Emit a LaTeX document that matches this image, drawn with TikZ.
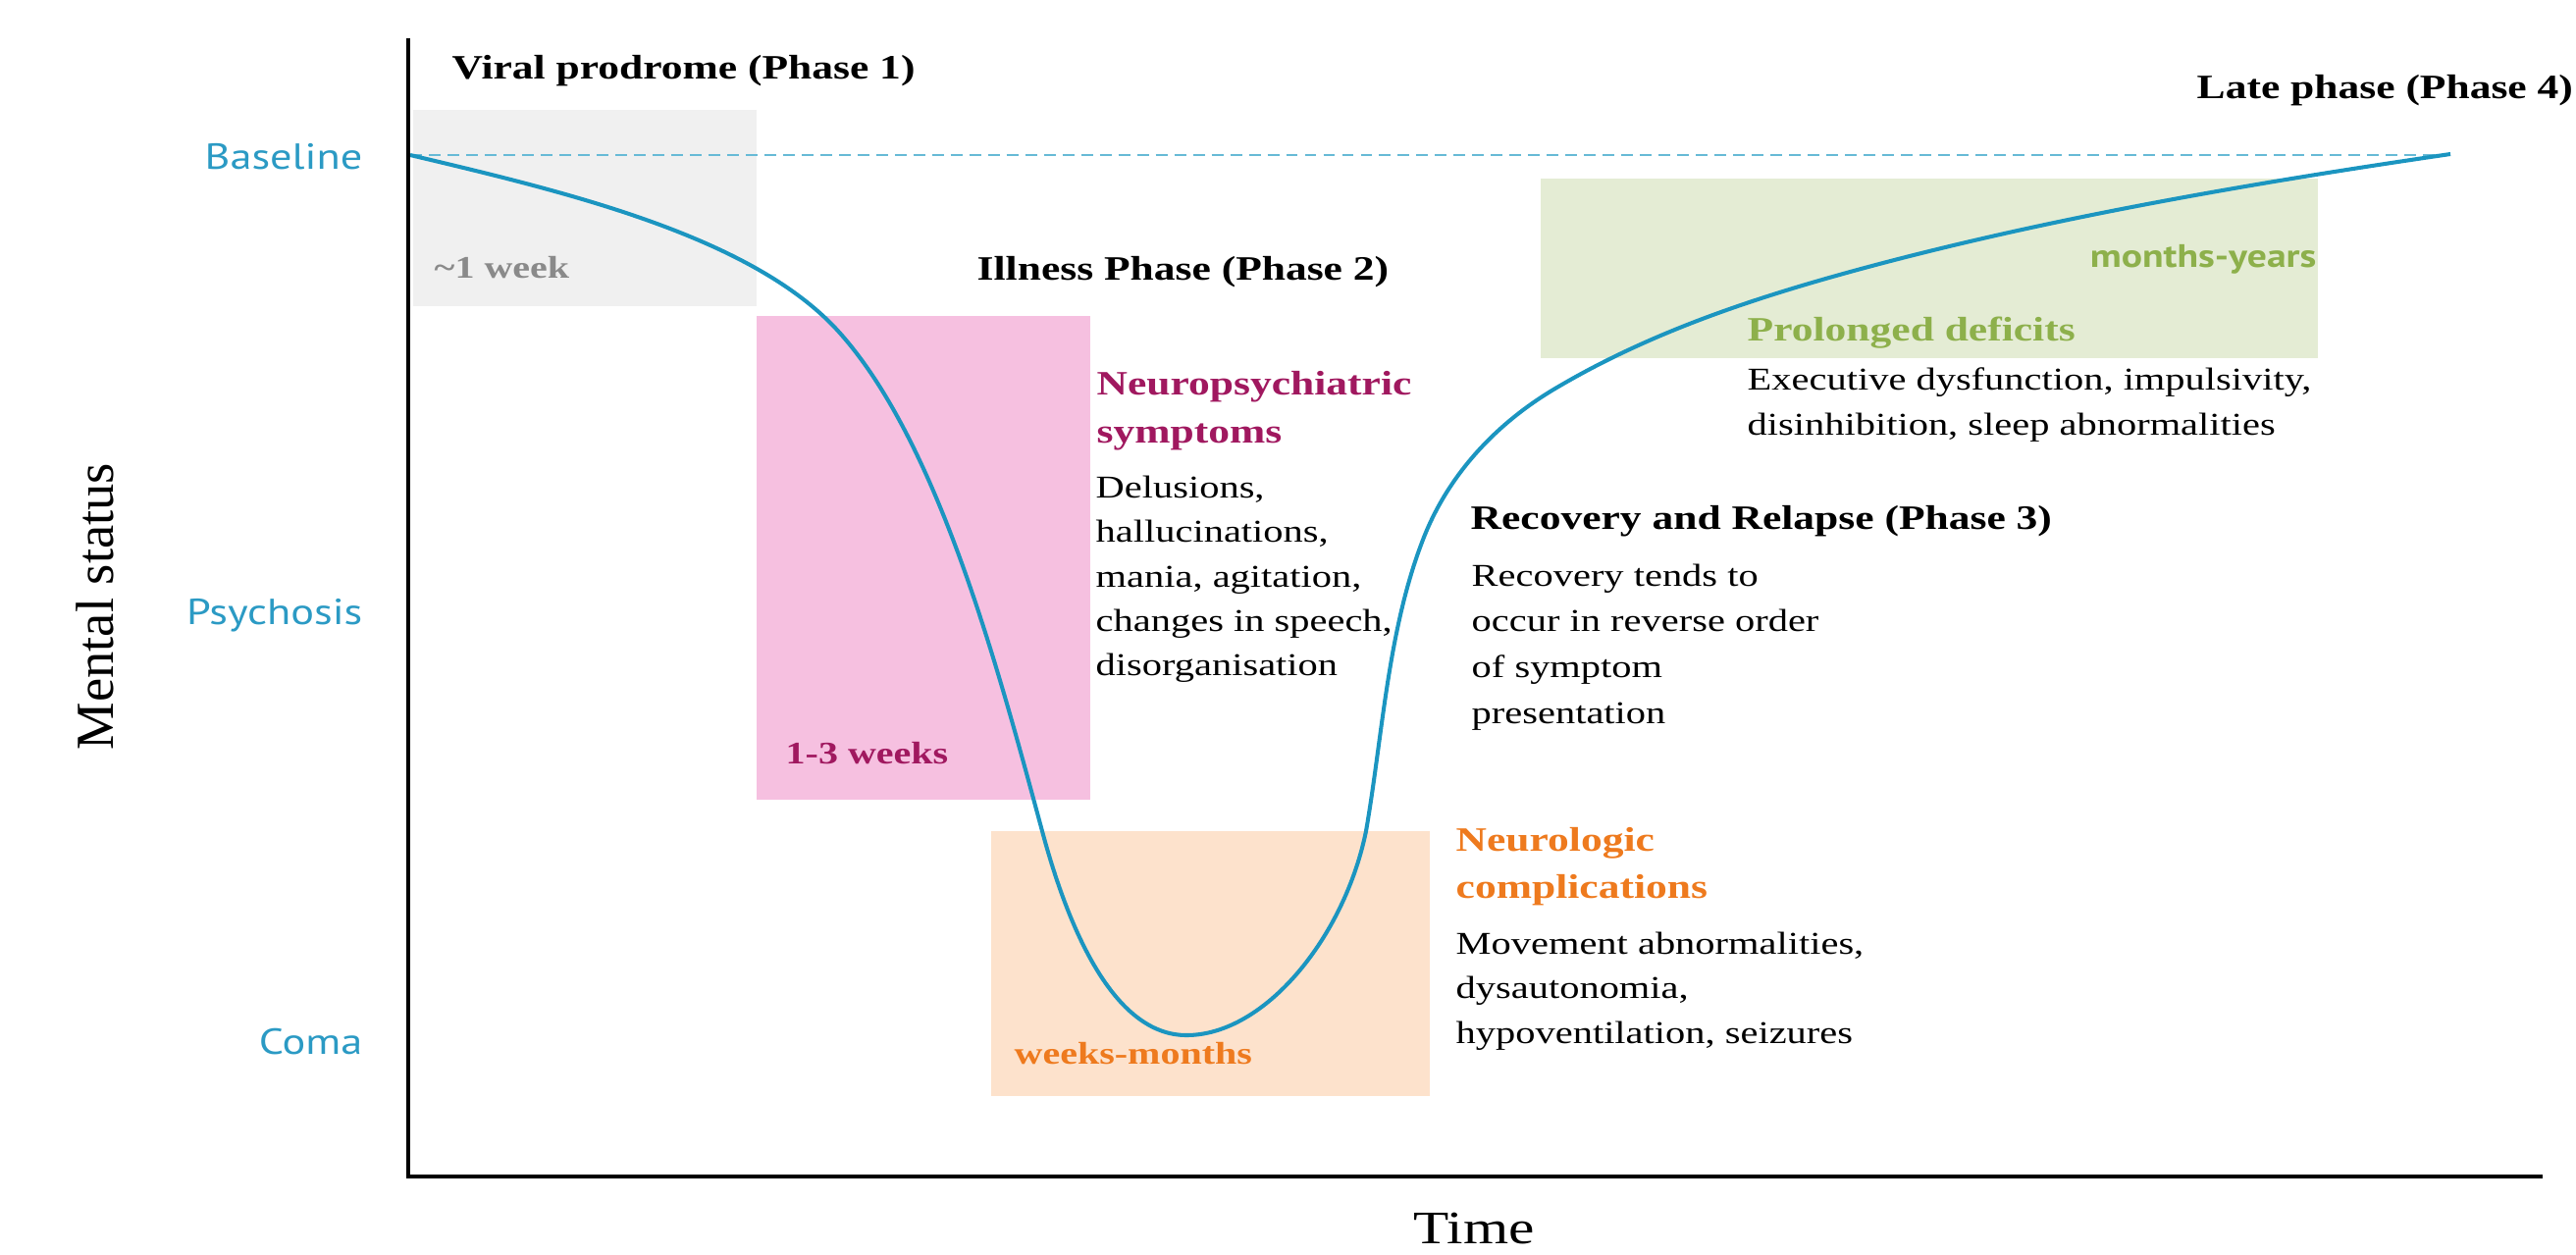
\documentclass[tikz,border=0pt]{standalone}
\usepackage{fontspec}
\setmainfont{Liberation Serif}[FakeStretch=1.25]
\newfontfamily\axisfont{Liberation Serif}
\newfontfamily\labfont{PT Sans}[FakeStretch=1.2]
\definecolor{curveblue}{HTML}{1B95C0}
\definecolor{dashblue}{HTML}{67BAD6}
\definecolor{lblblue}{HTML}{2B9AC4}
\definecolor{grayfill}{HTML}{F0F0F0}
\definecolor{pinkfill}{HTML}{F6C0E0}
\definecolor{peachfill}{HTML}{FDE2CC}
\definecolor{greenfill}{HTML}{E4ECD4}
\definecolor{magtext}{HTML}{A0185F}
\definecolor{orgtext}{HTML}{EE7A1E}
\definecolor{grntext}{HTML}{8DB04B}
\definecolor{gratext}{HTML}{8A8A8A}
\tikzset{
  lbl/.style={inner sep=0pt, anchor=base west},
  ttl/.style={lbl, font=\fontsize{9.9}{12}\selectfont\bfseries},
  body/.style={lbl, font=\fontsize{9.2}{11}\selectfont},
  dur/.style={lbl, font=\fontsize{9.1}{11}\selectfont\bfseries},
  ylab/.style={inner sep=0pt, anchor=base east, text=lblblue, font=\labfont\fontsize{10.5}{12}\selectfont},
  axisline/.style={line width=1.1pt, black},
  trajectory/.style={line width=1.15pt, curveblue},
  basedash/.style={line width=0.8pt, dashblue, dash pattern=on 3.4pt off 2pt}
}
\begin{document}
\begin{tikzpicture}[x=0.01cm, y=-0.01cm]
\useasboundingbox (0,0) rectangle (2625,1278);
% phase boxes
\fill[grayfill] (421,112) rectangle (771,312);
\fill[pinkfill] (771,322) rectangle (1111,815);
\fill[peachfill] (1010,847) rectangle (1457,1117);
\fill[greenfill] (1570,182) rectangle (2362,365);
% curve key points
\coordinate (cstart) at (418,158);
\coordinate (k1) at (850,333);
\coordinate (k2) at (1062,847);
\coordinate (kmin) at (1209,1055);
\coordinate (k4) at (1392,847);
\coordinate (k5) at (1450,550);
\coordinate (k6) at (1583,397);
\coordinate (k7) at (1900,273);
\coordinate (cend) at (2497,157);
% baseline dashed
\coordinate (dend) at (2497,158);
\draw[basedash] (cstart) -- (dend);
% trajectory
\draw[trajectory] (cstart)
  .. controls (574,195) and (760,239) .. (k1)
  .. controls (953,442) and (1015,673) .. (k2)
  .. controls (1088,944) and (1134,1055) .. (kmin)
  .. controls (1289,1055) and (1370,955) .. (k4)
  .. controls (1409,749) and (1414,643) .. (k5)
  .. controls (1475,485) and (1523,433) .. (k6)
  .. controls (1682,338) and (1789,303) .. (k7)
  .. controls (2093,221) and (2299,186) .. (cend);
% axes
\coordinate (ytop) at (416,39);
\coordinate (orig) at (416,1199);
\coordinate (xend) at (2591,1199);
\draw[axisline] (ytop) -- (orig) -- (xend);
% axis level labels
\node[ylab] (lbase) at (370,172) {Baseline};
\node[ylab] (lpsy) at (370,636) {Psychosis};
\node[ylab] (lcoma) at (370,1074) {Coma};
% axis titles
\node[inner sep=0pt, rotate=90, font=\axisfont\fontsize{15.5}{18}\selectfont] (ytitle) at (97,618) {Mental status};
\node[inner sep=0pt, anchor=base, font=\fontsize{13.5}{16}\selectfont] (xtitle) at (1502,1267) {Time};
% phase titles
\node[ttl] (p1) at (460,80) {Viral prodrome (Phase 1)};
\node[ttl] (p2) at (995,285) {Illness Phase (Phase 2)};
\node[ttl] (p3) at (1498,539) {Recovery and Relapse (Phase 3)};
\node[ttl] (p4) at (2238,100) {Late phase (Phase 4)};
% durations
\node[dur, text=gratext] (d1) at (442,283) {\textasciitilde1 week};
\node[dur, text=magtext] (d2) at (800,778) {1-3 weeks};
\node[dur, text=orgtext] (d3) at (1033,1084) {weeks-months};
\node[inner sep=0pt, anchor=base east, text=grntext, font=\labfont\fontsize{9.4}{11}\selectfont\bfseries] (d4) at (2361,272) {months-years};
% neuropsychiatric
\node[ttl, text=magtext] (np1) at (1117,402) {Neuropsychiatric};
\node[ttl, text=magtext] (np2) at (1117,451) {symptoms};
\node[body] (nb1) at (1116,507) {Delusions,};
\node[body] (nb2) at (1116,552) {hallucinations,};
\node[body] (nb3) at (1116,598) {mania, agitation,};
\node[body] (nb4) at (1116,643) {changes in speech,};
\node[body] (nb5) at (1116,688) {disorganisation};
% neurologic
\node[ttl, text=orgtext] (nl1) at (1483,867) {Neurologic};
\node[ttl, text=orgtext] (nl2) at (1483,915) {complications};
\node[body] (lb1) at (1483,972) {Movement abnormalities,};
\node[body] (lb2) at (1483,1017) {dysautonomia,};
\node[body] (lb3) at (1483,1063) {hypoventilation, seizures};
% recovery
\node[body] (rb1) at (1499,597) {Recovery tends to};
\node[body] (rb2) at (1499,643) {occur in reverse order};
\node[body] (rb3) at (1499,690) {of symptom};
\node[body] (rb4) at (1499,737) {presentation};
% prolonged
\node[ttl, text=grntext] (pd) at (1780,347) {Prolonged deficits};
\node[body] (pb1) at (1780,397) {Executive dysfunction, impulsivity,};
\node[body] (pb2) at (1780,443) {disinhibition, sleep abnormalities};
\end{tikzpicture}
\end{document}
